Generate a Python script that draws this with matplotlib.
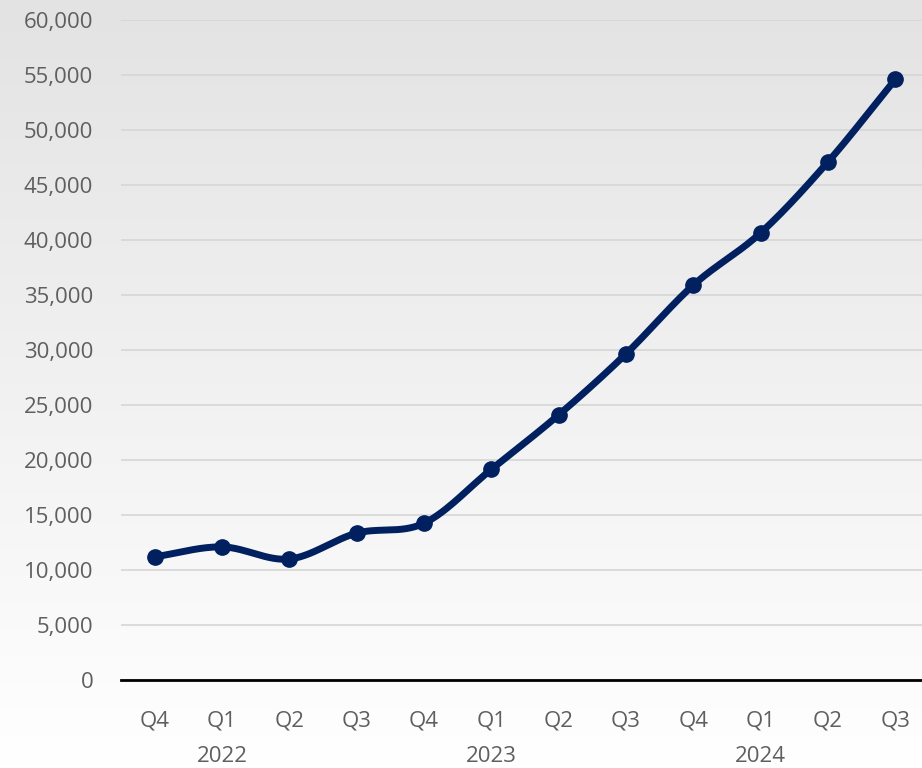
import numpy as np
import matplotlib
matplotlib.use("Agg")
import matplotlib.pyplot as plt
from matplotlib.colors import LinearSegmentedColormap
from matplotlib.ticker import FuncFormatter

quarters = ["Q4", "Q1", "Q2", "Q3", "Q4", "Q1", "Q2", "Q3", "Q4", "Q1", "Q2", "Q3"]
years = ["2022", "2023", "2024"]
year_pos = [1, 5, 9]  # years sit under each Q1
values = [11200, 12100, 11000, 13350, 14250, 19150, 24100, 29650, 35900, 40650, 47100, 54600]

navy = "#012060"
grey_txt = "#5f5f5f"

plt.rcParams['font.family'] = ['Open Sans', 'DejaVu Sans']


def smooth(x, y, n=30):
    # courbe lissée type Catmull-Rom, passe par tous les points
    x = np.asarray(x, float)
    y = np.asarray(y, float)
    xs, ys = [], []
    for i in range(len(x) - 1):
        p0 = i - 1 if i > 0 else i
        p3 = i + 2 if i + 2 < len(x) else i + 1
        m1x = (x[i + 1] - x[p0]) / 2 * (2 if p0 == i else 1)
        m1y = (y[i + 1] - y[p0]) / 2 * (2 if p0 == i else 1)
        m2x = (x[p3] - x[i]) / 2 * (2 if p3 == i + 1 else 1)
        m2y = (y[p3] - y[i]) / 2 * (2 if p3 == i + 1 else 1)
        t = np.linspace(0, 1, n, endpoint=False)
        h00 = 2 * t**3 - 3 * t**2 + 1
        h10 = t**3 - 2 * t**2 + t
        h01 = -2 * t**3 + 3 * t**2
        h11 = t**3 - t**2
        xs.append(h00 * x[i] + h10 * m1x + h01 * x[i + 1] + h11 * m2x)
        ys.append(h00 * y[i] + h10 * m1y + h01 * y[i + 1] + h11 * m2y)
    xs.append([x[-1]])
    ys.append([y[-1]])
    return np.concatenate(xs), np.concatenate(ys)


fig = plt.figure(figsize=(9.22, 7.68), dpi=100)

# fond en dégradé gris -> blanc
bg = fig.add_axes([0, 0, 1, 1], zorder=-10)
grad = np.linspace(1, 0, 256).reshape(-1, 1)
cmap = LinearSegmentedColormap.from_list("bg", ["#ffffff", "#e3e3e3"])
bg.imshow(grad, aspect="auto", cmap=cmap, extent=[0, 1, 0, 1], origin="upper")
bg.axis("off")

# l'axe déborde un peu à droite, comme dans l'original
ax = fig.add_axes([121 / 922, 88 / 768, 808 / 922, 660 / 768])
ax.patch.set_alpha(0)

x = np.arange(len(values))
sx, sy = smooth(x, values)
ax.plot(sx, sy, color=navy, lw=5, solid_capstyle="round", zorder=3, clip_on=False)
ax.plot(x, values, "o", color=navy, ms=11, zorder=4, clip_on=False)

ax.set_xlim(-0.5, len(values) - 0.5)
ax.set_ylim(0, 60000)
ax.set_yticks(np.arange(0, 60001, 5000))
ax.yaxis.set_major_formatter(FuncFormatter(lambda v, p: f"{int(v):,}"))
ax.grid(axis="y", color="#d6d6d6", lw=1.2)
ax.set_axisbelow(True)

for s in ["left", "right", "top"]:
    ax.spines[s].set_visible(False)
ax.spines["bottom"].set_color("black")
ax.spines["bottom"].set_linewidth(2)

ax.set_xticks(x)
ax.set_xticklabels(quarters)
ax.tick_params(axis="x", length=0, pad=22, labelsize=16, labelcolor=grey_txt)
ax.tick_params(axis="y", length=0, pad=20, labelsize=16, labelcolor=grey_txt)

for yr, pos in zip(years, year_pos):
    ax.annotate(yr, xy=(pos, 0), xycoords=("data", "axes fraction"),
                xytext=(0, -77), textcoords="offset pixels",
                ha="center", va="center", fontsize=16, color=grey_txt)

fig.savefig("out.png", dpi=100)
